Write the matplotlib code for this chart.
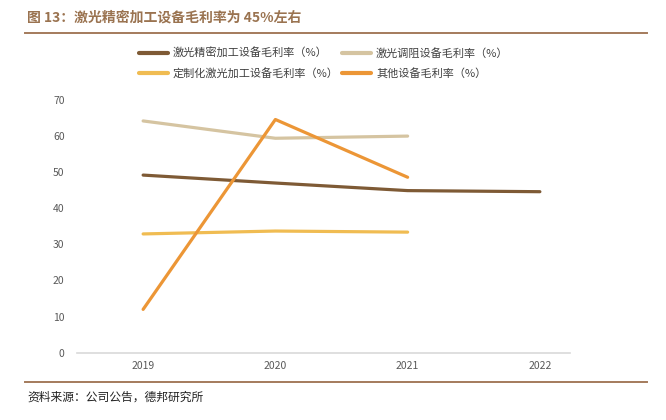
import matplotlib
matplotlib.use("Agg")
import matplotlib.pyplot as plt
from matplotlib.lines import Line2D

plt.rcParams['font.family'] = ['Noto Sans CJK SC', 'DejaVu Sans']

years = ["2019", "2020", "2021", "2022"]
precision = [49.2, 47.0, 44.9, 44.6]
resistor = [64.2, 59.4, 60.0]
custom = [32.9, 33.7, 33.4]
other = [12.0, 64.6, 48.6]

names = ["激光精密加工设备毛利率（%）", "激光调阻设备毛利率（%）",
         "定制化激光加工设备毛利率（%）", "其他设备毛利率（%）"]
colors = ["#7E5A35", "#D5C4A1", "#F0BC52", "#EC9636"]
yticks = [0, 10, 20, 30, 40, 50, 60, 70]

W, H = 666, 420
fig = plt.figure(figsize=(W / 100, H / 100), dpi=100)
ax = fig.add_axes([77 / W, 1 - 352.7 / H, 529 / W, 252.7 / H])

series = [precision, resistor, custom, other]
for vals, col in zip(series, colors):
    ax.plot(range(len(vals)), vals, color=col, lw=2.3, solid_capstyle="round", zorder=3)

ax.set_xlim(-0.5, 3.5)
ax.set_ylim(0, 70)
ax.set_xticks(range(len(years)))
ax.set_xticklabels(years)
ax.set_yticks(yticks)
for s in ax.spines.values():
    s.set_visible(False)
ax.plot([-0.5, 3.23], [0, 0], color="#D9D9D9", lw=1.2, zorder=1, clip_on=False)
ax.tick_params(length=0, labelsize=7.5, labelcolor="#595959")
ax.tick_params(axis="x", pad=6)
ax.tick_params(axis="y", pad=9)

# title and rules
fig.text(27 / W, 1 - 18 / H, "图 13：激光精密加工设备毛利率为 45%左右", fontsize=10,
         fontweight="bold", color="#9A7350", va="center")
fig.add_artist(Line2D([25 / W, 647 / W], [1 - 33 / H] * 2, color="#A47B5C", lw=1.4))
fig.add_artist(Line2D([25 / W, 647 / W], [1 - 382 / H] * 2, color="#A47B5C", lw=1.4))
fig.text(27 / W, 1 - 397 / H, "资料来源：公司公告，德邦研究所", fontsize=8.5,
         color="#222222", va="center")

# legend
pos = [(137, 53), (340, 53), (137, 73), (340, 73)]
for (x, y), name, col in zip(pos, names, colors):
    fig.add_artist(Line2D([(x + 2) / W, (x + 31) / W], [1 - y / H] * 2, color=col, lw=3,
                          solid_capstyle="round"))
    fig.text((x + 36) / W, 1 - y / H, name, fontsize=8, color="#404040", va="center")

fig.savefig("out.png", dpi=100)
